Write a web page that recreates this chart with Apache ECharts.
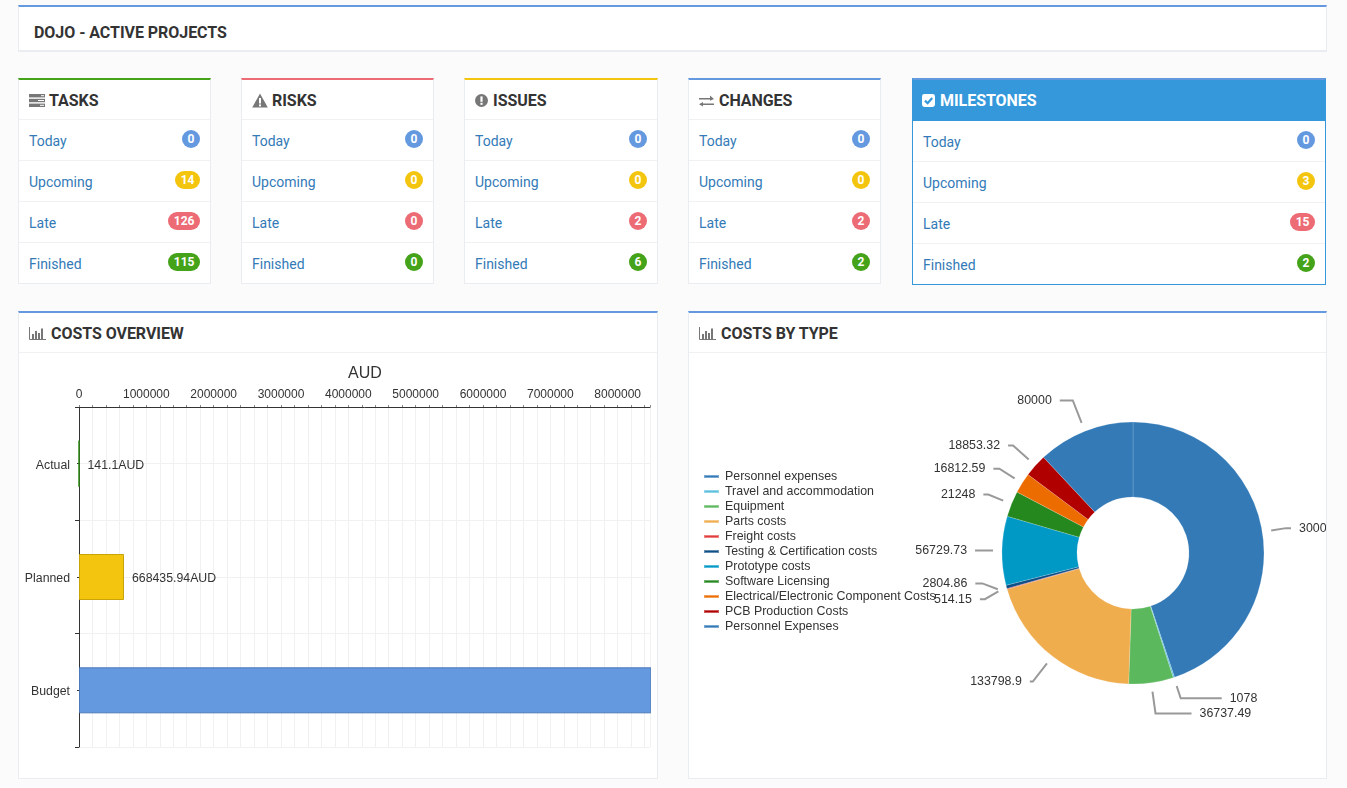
<!DOCTYPE html>
<html><head><meta charset="utf-8">
<script src="https://cdn.jsdelivr.net/npm/echarts@6/dist/echarts.min.js"></script>
<style>
html,body{margin:0;padding:0;background:#fbfbfb;width:1347px;height:788px;overflow:hidden;font-family:Roboto,sans-serif}
.panel{position:absolute;background:#fff;border:1px solid #e9edf2;box-sizing:border-box;overflow:hidden}
.top{border-top:2px solid #6499e0}
h1,h2{margin:0;font-size:16px;font-weight:700;color:#333;position:absolute;white-space:nowrap;line-height:20px;letter-spacing:-0.05px}
.row{position:absolute;left:0;right:0;height:41px;border-top:1px solid #f0f1f3;box-sizing:border-box}
.row a{position:absolute;left:10px;top:12px;font-size:14px;line-height:18px;color:#337ab7}
.badge{position:absolute;right:10px;top:10px;min-width:18px;height:18px;border-radius:9px;color:#fff;font-size:12px;font-weight:700;line-height:18px;text-align:center;box-sizing:border-box;padding:0 5.5px}
svg{position:absolute}
.chart{position:absolute}
</style></head><body>
<div id="page"></div>
<script>
// ---- data ----
const pageTitle = 'DOJO - ACTIVE PROJECTS';
const rowLabels = ['Today', 'Upcoming', 'Late', 'Finished'];
const badgeColors = ['#6499e0', '#f4c50f', '#ec6b74', '#45a31a'];
const cardTitles = ['TASKS', 'RISKS', 'ISSUES', 'CHANGES', 'MILESTONES'];
const cardCounts = [[0, 14, 126, 115], [0, 0, 0, 0], [0, 0, 2, 6], [0, 0, 2, 2], [0, 3, 15, 2]];
const cardAccents = ['#45a31a', '#ec6b74', '#f4c50f', '#6499e0', '#6499e0'];
const cardLefts = [18, 241, 464, 688, 912];
const cardWidths = [193, 193, 194, 193, 414];

const costCategories = ['Actual', 'Planned', 'Budget'];
const costValues = [141.1, 668435.94, 8500000];
const costColors = ['#45a31a', '#f4c50f', '#6499e0'];
const costBorders = ['#2f8a12', '#c9a406', '#4a78b8'];
const costShowLabel = [true, true, false];
const costUnit = 'AUD';

const typeNames = ['Personnel expenses', 'Travel and accommodation', 'Equipment', 'Parts costs', 'Freight costs',
  'Testing & Certification costs', 'Prototype costs', 'Software Licensing',
  'Electrical/Electronic Component Costs', 'PCB Production Costs', 'Personnel Expenses'];
const typeValues = [300000, 1078, 36737.49, 133798.9, 514.15, 2804.86, 56729.73, 21248, 16812.59, 18853.32, 80000];
const typeColors = ['#337ab7', '#5bc0de', '#5cb85c', '#f0ad4e', '#e23c3c', '#0e4f86', '#0099c6', '#24881f', '#ec6c00', '#b00000', '#337ab7'];
const typeLineLen = [15, 13, 22, 23, 14, 16, 8, 16, 18, 21, 24];
const typeLineLen2 = [5, 41, 36, 3, 5, 7, 10, 5, 6, 5, 13];
const typeLabelShift = [0, 0, 0, 0, 4, -10, 0, 0, 0, 0, 0];

// ---- page furniture ----
const page = document.getElementById('page');
function el(tag, css, html, parent) {
  const e = document.createElement(tag);
  if (css) e.style.cssText = css;
  if (html !== undefined) e.innerHTML = html;
  (parent || page).appendChild(e);
  return e;
}
const icons = [
  c => `<svg style="left:10px;top:14px" width="16" height="13" viewBox="0 0 16 13"><g fill="${c}"><rect y="0" width="16" height="3.4"/><rect y="4.8" width="16" height="3.4"/><rect y="9.6" width="16" height="3.4"/></g><g fill="#fff"><rect x="12" y="1.2" width="3" height="1"/><rect x="9" y="6" width="6" height="1"/><rect x="11" y="10.8" width="4" height="1"/></g></svg>`,
  c => `<svg style="left:10px;top:13px" width="16" height="15" viewBox="0 0 16 15"><path d="M8 0.5 L15.8 14.5 L0.2 14.5 Z" fill="${c}"/><rect x="7" y="5" width="2" height="5.5" fill="#fff"/><rect x="7" y="11.4" width="2" height="2" fill="#fff"/></svg>`,
  c => `<svg style="left:10px;top:14px" width="13" height="13" viewBox="0 0 13 13"><circle cx="6.5" cy="6.5" r="6.5" fill="${c}"/><rect x="5.4" y="2.4" width="2.2" height="5.4" fill="#fff"/><rect x="5.4" y="8.8" width="2.2" height="2" fill="#fff"/></svg>`,
  c => `<svg style="left:10px;top:15px" width="15" height="12" viewBox="0 0 15 12"><path d="M0 3h11V0.5L15 4l-4 1.8V4.6H0zM15 8.4H4V7L0 9.2 4 11.6v-1.6h11z" fill="${c}"/></svg>`,
  c => `<svg style="left:9px;top:14px" width="13" height="13" viewBox="0 0 13 13"><rect width="13" height="13" rx="2.4" fill="${c}"/><path d="M3 6.6 L5.6 9.2 L10.2 4" stroke="#3498db" stroke-width="2.2" fill="none"/></svg>`
];
const chartIcon = `<svg style="left:10px;top:14px" width="17" height="13" viewBox="0 0 17 13"><path d="M0.5 0v12.5H17" stroke="#777" fill="none"/><g fill="#777"><rect x="3" y="7" width="2" height="5"/><rect x="6" y="4" width="2" height="8"/><rect x="9" y="6" width="2" height="6"/><rect x="12" y="1.5" width="2" height="10.5"/></g></svg>`;

const head = el('div', 'left:18px;top:5px;width:1309px;height:47px;border-bottom-width:2px', '', null);
head.className = 'panel top';
el('h1', 'left:15px;top:16px', pageTitle, head);

cardTitles.forEach((t, i) => {
  const big = i === 4;
  const c = el('div', `left:${cardLefts[i]}px;top:78px;width:${cardWidths[i]}px;height:${big ? 207 : 206}px;border-top-color:${cardAccents[i]}` + (big ? ';border-color:#3498db;border-top-color:#6499e0' : ''));
  c.className = 'panel top';
  if (big) el('div', 'position:absolute;left:0;right:0;top:0;height:41px;background:#3498db', '', c);
  c.insertAdjacentHTML('beforeend', icons[i](big ? '#fff' : '#777'));
  el('h2', `left:${i === 4 ? 27 : (i === 0 || i === 1) ? 30 : i === 2 ? 28 : 30}px;top:11px;${big ? 'color:#fff' : ''}`, t, c);
  rowLabels.forEach((r, j) => {
    const row = el('div', `top:${(big ? 40 : 39) + j * 41}px;${big && j === 0 ? 'border-top-color:transparent' : ''}`, '', c);
    row.className = 'row';
    el('a', '', r, row);
    const b = el('span', `background:${badgeColors[j]}`, cardCounts[i][j], row);
    b.className = 'badge';
  });
});

const left = el('div', 'left:18px;top:311px;width:640px;height:468px');
left.className = 'panel top';
left.insertAdjacentHTML('beforeend', chartIcon);
el('h2', 'left:32px;top:11px', 'COSTS OVERVIEW', left);
el('div', 'position:absolute;left:0;right:0;top:39px;border-top:1px solid #f0f1f3', '', left);

const right = el('div', 'left:688px;top:311px;width:639px;height:468px');
right.className = 'panel top';
right.insertAdjacentHTML('beforeend', chartIcon);
el('h2', 'left:32px;top:11px', 'COSTS BY TYPE', right);
el('div', 'position:absolute;left:0;right:0;top:39px;border-top:1px solid #f0f1f3', '', right);

const barBox = el('div', 'left:0;top:40px;width:632px;height:425px', '', left);
barBox.className = 'chart';
const pieBox = el('div', 'left:0;top:40px;width:760px;height:425px', '', right);
pieBox.className = 'chart';

// ---- bar chart ----
const font = 'Liberation Sans, Arial, sans-serif';
const gridLine = { show: true, lineStyle: { color: '#f0f1f3', width: 1 } };
echarts.init(barBox, null, { renderer: 'canvas' }).setOption({
  animation: false,
  title: { text: costUnit, left: 346, top: 13, padding: 0, textAlign: 'center',
    textStyle: { fontFamily: font, fontSize: 16, fontWeight: 'normal', color: '#333' } },
  grid: { left: 60, top: 54, width: 571, height: 340, containLabel: false },
  xAxis: { type: 'value', position: 'top', min: 0, max: 8480000, interval: 1000000,
    axisLine: { show: true, lineStyle: { color: '#333' } },
    axisTick: { show: true, length: 2, lineStyle: { color: '#888' } },
    minorTick: { show: true, splitNumber: 5, length: 2, lineStyle: { color: '#888' } },
    splitLine: gridLine, minorSplitLine: gridLine,
    axisLabel: { fontFamily: font, fontSize: 12, color: '#333', margin: 6, showMaxLabel: false, formatter: v => String(v) } },
  yAxis: [
    { type: 'category', inverse: true, data: costCategories,
      axisLine: { show: true, onZero: false, lineStyle: { color: '#333' } },
      axisTick: { show: true, length: 4, lineStyle: { color: '#333' } },
      splitLine: gridLine,
      axisLabel: { margin: 9, formatter: v => '{a|' + v + '}',
        rich: { a: { fontFamily: font, fontSize: 12.3, color: '#333', padding: [3, 0, 0, 0] } } } },
    { type: 'category', inverse: true, data: costCategories, position: 'left', offset: 1,
      axisLine: { show: false },
      axisTick: { show: true, alignWithLabel: true, length: 2, lineStyle: { color: '#333' } },
      splitLine: { show: true, alignWithLabel: true, lineStyle: { color: '#f0f1f3' } },
      axisLabel: { show: false } }
  ],
  series: [{ type: 'bar', barWidth: 46, yAxisIndex: 0, clip: false,
    data: costValues.map((v, i) => ({ value: v,
      itemStyle: { color: costColors[i], borderColor: costBorders[i], borderWidth: 1 },
      label: { show: costShowLabel[i] } })),
    labelLayout: { dy: 1.5 },
    label: { position: 'right', distance: 8, fontFamily: font, fontSize: 12.3, color: '#333',
      formatter: p => p.value + costUnit } }]
});

// ---- doughnut ----
const pieCenter = [444, 200];
echarts.init(pieBox, null, { renderer: 'canvas' }).setOption({
  animation: false,
  legend: { orient: 'vertical', left: 14, top: 117.5, padding: 0, icon: 'rect', itemWidth: 15, itemHeight: 3, itemGap: 3,
    selectedMode: false, data: typeNames.map(n => ({ name: n })),
    textStyle: { fontFamily: font, fontSize: 12.4, color: '#333', padding: [0, 0, 0, 1], height: 12, lineHeight: 12 } },
  color: typeColors,
  series: [
    { type: 'pie', center: pieCenter, radius: [56, 131], startAngle: 90, clockwise: true, silent: true,
      itemStyle: { borderColor: 'rgba(255,255,255,0.35)', borderWidth: 0.5 },
      label: { show: false }, labelLine: { show: false },
      data: typeNames.map((n, i) => ({ name: n, value: typeValues[i] })) },
    { type: 'pie', center: pieCenter, radius: [139, 140], startAngle: 90, clockwise: true, silent: true,
      minShowLabelAngle: 0, avoidLabelOverlap: false,
      itemStyle: { color: 'rgba(0,0,0,0)', borderWidth: 0 },
      label: { show: true, fontFamily: font, fontSize: 12.4, color: '#333', distanceToLabelLine: 8, formatter: p => String(p.value) },
      labelLine: { show: true, lineStyle: { color: '#999', width: 2 } },
      labelLayout: p => {
        const d = typeLabelShift[p.dataIndex];
        if (!d) return {};
        const pts = p.labelLinePoints;
        return { dy: d, labelLinePoints: [pts[0], [pts[1][0], pts[1][1] + d], [pts[2][0], pts[2][1] + d]] };
      },
      data: typeNames.map((n, i) => ({ name: n, value: typeValues[i],
        labelLine: { length: typeLineLen[i], length2: typeLineLen2[i] } })) }
  ]
});
</script>
</body></html>
